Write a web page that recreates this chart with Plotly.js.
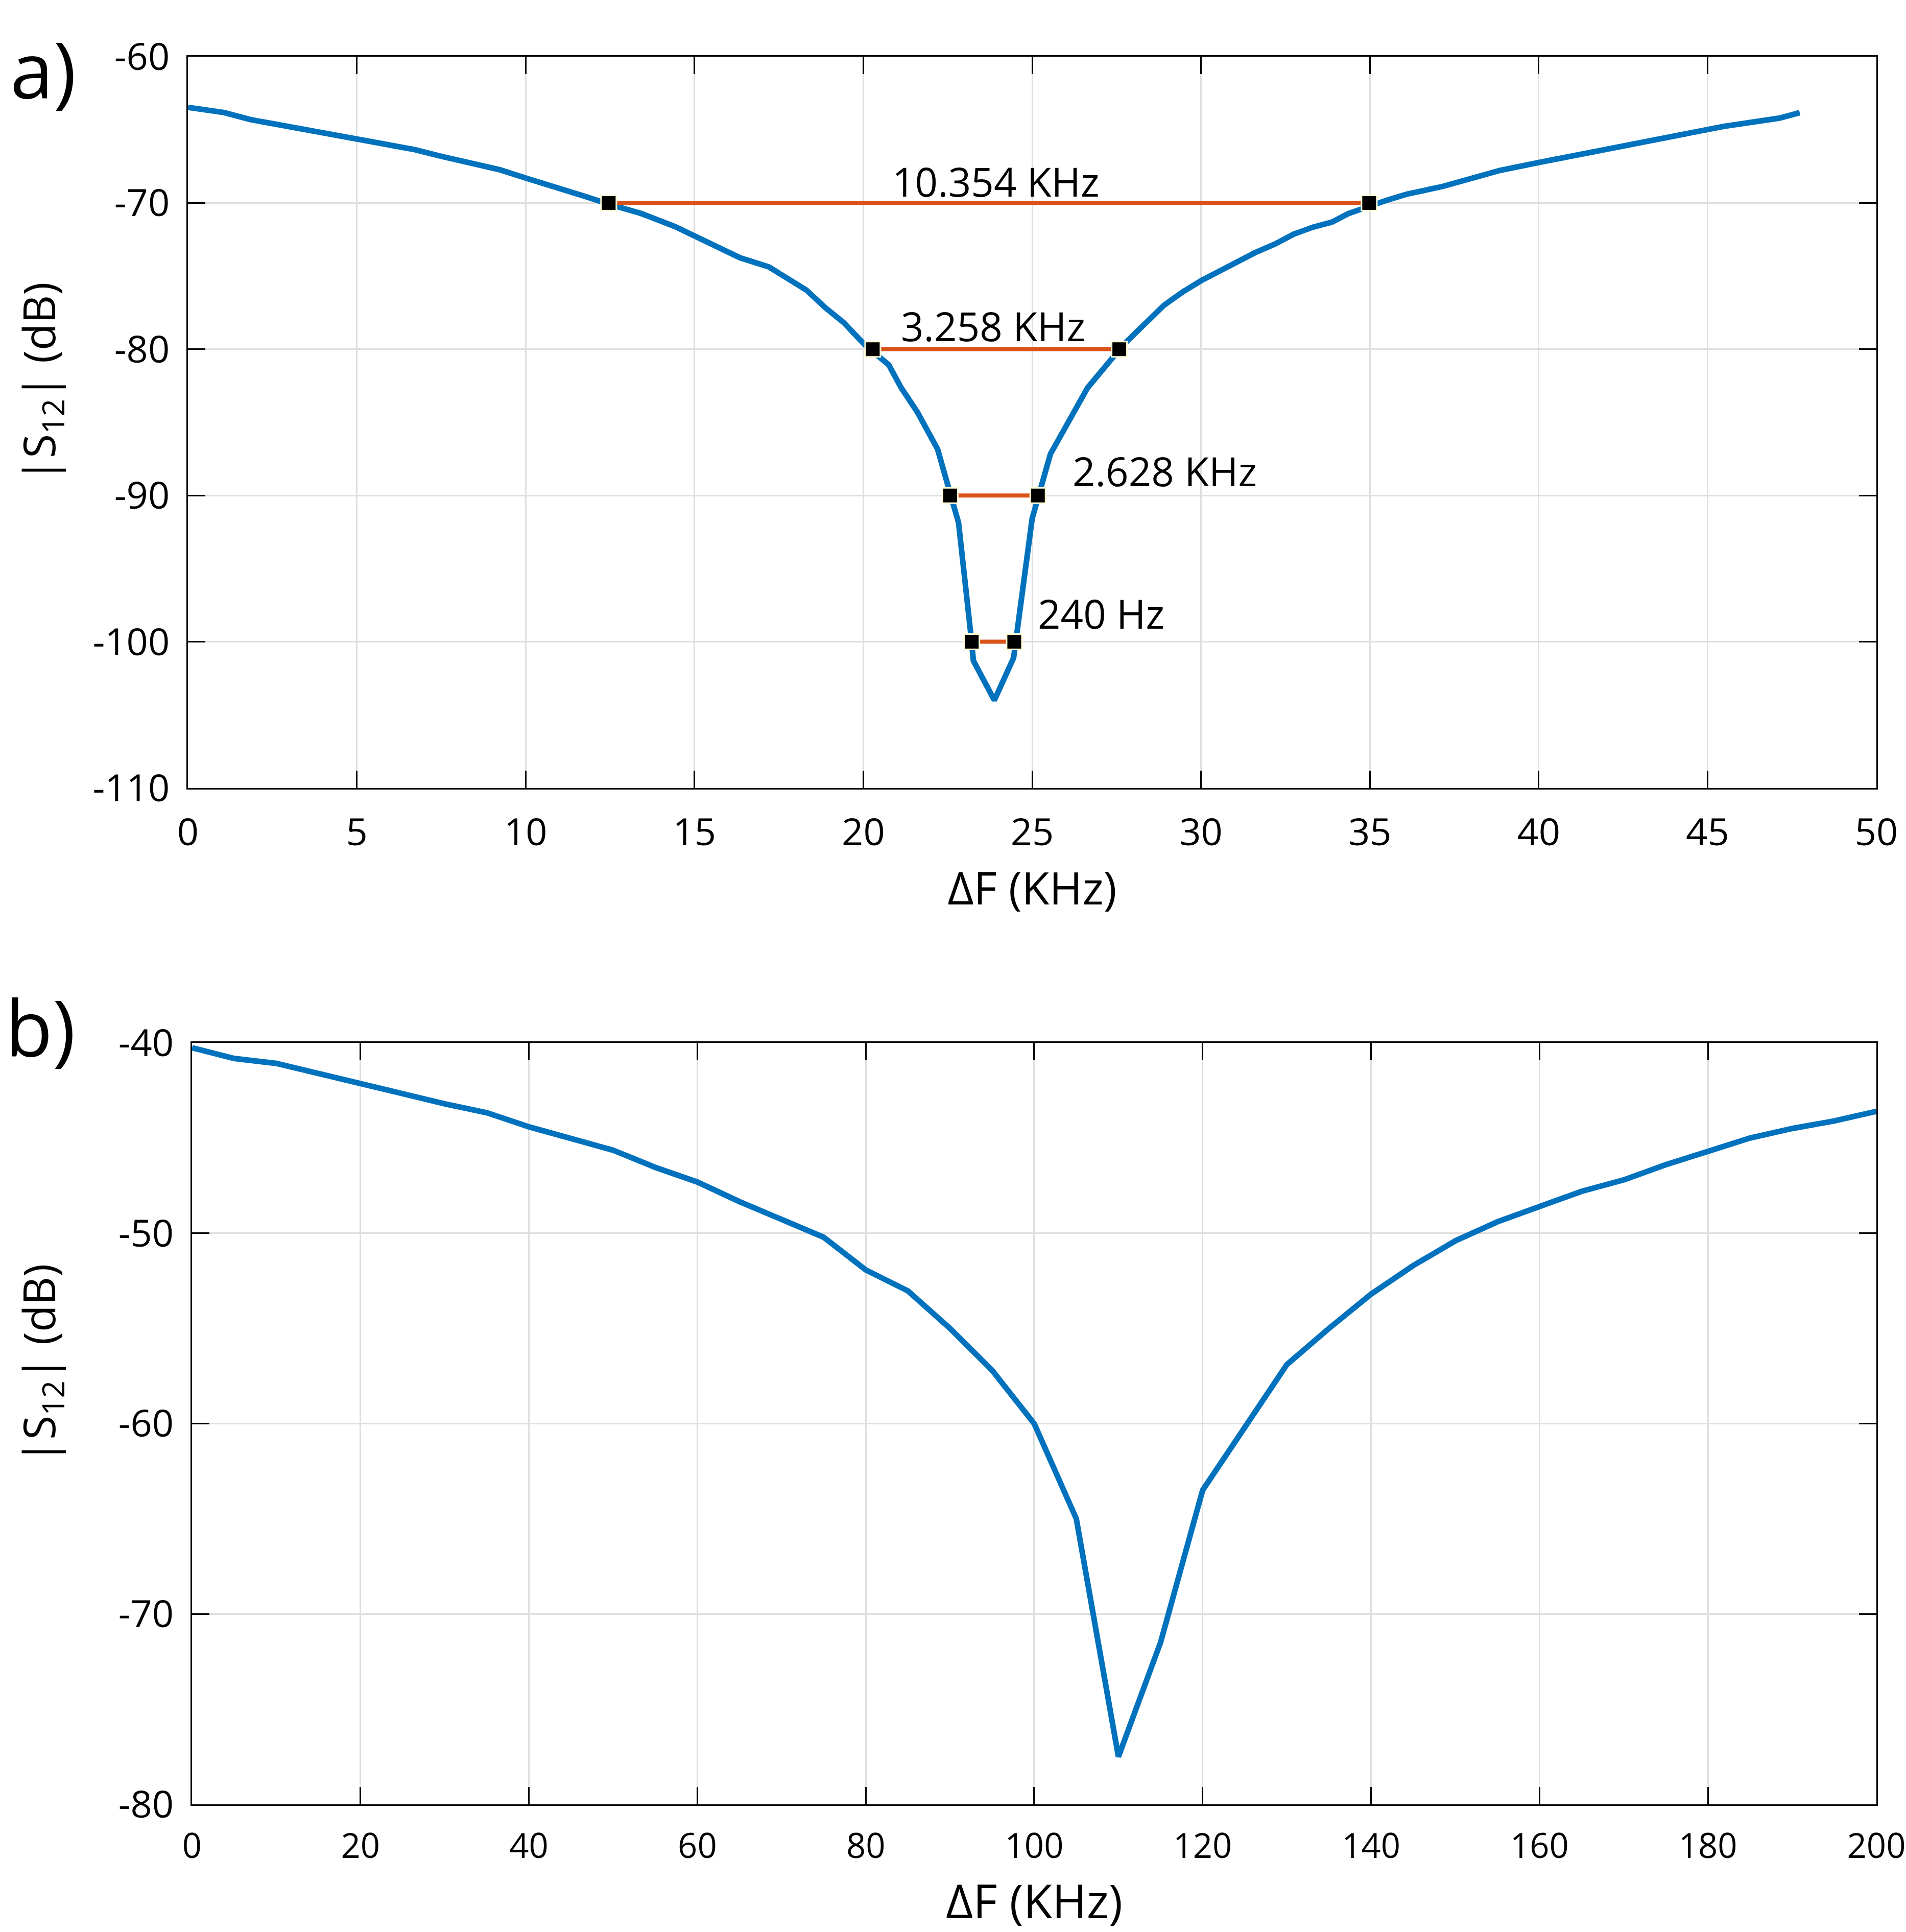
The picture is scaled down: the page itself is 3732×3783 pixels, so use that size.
<!DOCTYPE html>
<html>
<head>
<meta charset="utf-8">
<script src="https://cdn.plot.ly/plotly-3.0.1.min.js"></script>
<style>
  html, body { margin: 0; padding: 0; background: #ffffff; }
  #chart { width: 3732px; height: 3783px; }
</style>
</head>
<body>
<div id="chart"></div>
<script>
// ---- panel a: |S12| vs frequency offset, 0..50 KHz ----
const freqA = [0, 1.07, 1.85, 2.78, 4.31, 5.55, 6.71, 7.48, 8.48, 9.25, 10.02, 10.95, 11.72,
    12.49, 13.42, 14.42, 15.42, 16.35, 17.2, 17.74, 18.31, 18.87, 19.43, 20.05, 20.75, 21.12,
    21.6, 22.2, 22.5, 22.82, 23.19, 23.26, 23.88, 24.45, 25.0, 25.54, 26.64, 27.7, 28.9, 29.46,
    30.03, 30.59, 31.6, 32.2, 32.75, 33.31, 33.88, 34.36, 35.0, 35.52, 36.09, 37.16, 38.24,
    38.86, 39.99, 41.07, 41.64, 42.77, 43.79, 44.98, 45.49, 47.13, 47.73];
const s12A = [-63.46, -63.82, -64.3, -64.69, -65.25, -65.82, -66.35, -66.8, -67.3, -67.74, -68.31,
    -68.93, -69.52, -70.1, -70.72, -71.61, -72.77, -73.75, -74.37, -75.15, -75.95, -77.15, -78.2,
    -79.72, -81.06, -82.63, -84.3, -86.84, -89.4, -91.86, -99.63, -101.3, -104.0, -101.1, -91.58,
    -87.17, -82.64, -79.7, -77.0, -76.08, -75.28, -74.6, -73.4, -72.8, -72.13, -71.66, -71.31,
    -70.73, -70.2, -69.8, -69.4, -68.87, -68.17, -67.77, -67.24, -66.74, -66.48, -65.96, -65.5,
    -64.97, -64.76, -64.2, -63.83];

// bandwidth markers at each level
const bwLevel = [-70, -80, -90, -100];
const bwLeft  = [12.46, 20.28, 22.57, 23.21];
const bwRight = [34.98, 27.58, 25.17, 24.47];
const bwText  = ["10.354 KHz", "3.258 KHz", "2.628 KHz", "240 Hz"];
const bwTextX = [23.92, 23.84, 28.93, 27.04];
const bwTextY = [-68.52, -78.41, -88.31, -98.07];

// ---- panel b: 0..200 KHz ----
const freqB = [0, 5, 10, 15, 20, 25, 30, 35, 40, 45, 50, 55, 60, 65, 70, 75, 80, 85, 90, 95, 100,
    105, 110, 115, 120, 125, 130, 135, 140, 145, 150, 155, 160, 165, 170, 175, 180, 185, 190, 195, 200];
const s12B = [-40.26, -40.82, -41.08, -41.59, -42.1, -42.67, -43.2, -43.67, -44.41, -45.05, -45.64,
    -46.54, -47.31, -48.34, -49.24, -50.21, -51.93, -53.03, -55.0, -57.2, -60.0, -65.0, -77.5, -71.5,
    -63.5, -60.2, -56.9, -55.0, -53.2, -51.7, -50.4, -49.4, -48.6, -47.8, -47.2, -46.4, -45.7, -45.0,
    -44.5, -44.1, -43.6];

// tick labels (plain hyphen like the original)
const xTicksA = [0, 5, 10, 15, 20, 25, 30, 35, 40, 45, 50];
const yTicksA = [-110, -100, -90, -80, -70, -60];
const xTicksB = [0, 20, 40, 60, 80, 100, 120, 140, 160, 180, 200];
const yTicksB = [-80, -70, -60, -50, -40];

const BLUE = "#0072BD";
const ORANGE = "#D95319";
const FONT = "Open Sans, Noto Sans, sans-serif";

const traces = [{
    x: freqA, y: s12A, xaxis: "x", yaxis: "y",
    mode: "lines", line: { color: BLUE, width: 11 }, hoverinfo: "skip"
}];
bwLevel.forEach((lv, i) => {
    traces.push({
        x: [bwLeft[i], bwRight[i]], y: [lv, lv], xaxis: "x", yaxis: "y",
        mode: "lines+markers",
        line: { color: ORANGE, width: 8 },
        marker: { symbol: "square", size: 30, color: "#000000", line: { color: "#fffbd6", width: 3 } },
        cliponaxis: false
    });
});
traces.push({
    x: freqB, y: s12B, xaxis: "x2", yaxis: "y2",
    mode: "lines", line: { color: BLUE, width: 11 }, hoverinfo: "skip"
});

function axisBase(extra) {
    return Object.assign({
        showline: true, linecolor: "#000000", linewidth: 3, mirror: "ticks",
        ticks: "inside", ticklen: 34, tickwidth: 3, tickcolor: "#000000",
        showgrid: true, gridcolor: "#dfdfdf", gridwidth: 3,
        zeroline: false, automargin: false, ticklabeloverflow: "allow",
        tickfont: { family: FONT, size: 74, color: "#000000" }
    }, extra);
}

const annotations = bwText.map((t, i) => ({
    x: bwTextX[i], y: bwTextY[i], xref: "x", yref: "y", text: t, showarrow: false,
    xanchor: "center", yanchor: "middle", font: { family: FONT, size: 78, color: "#000000" }
}));
annotations.push(
    { x: 0.0048, y: 0.9645, xref: "paper", yref: "paper", text: "a)", showarrow: false,
      xanchor: "left", yanchor: "middle", font: { family: FONT, size: 152, color: "#000000" } },
    { x: 0.0021, y: 0.4685, xref: "paper", yref: "paper", text: "b)", showarrow: false,
      xanchor: "left", yanchor: "middle", font: { family: FONT, size: 152, color: "#000000" } },
    { x: 0.0215, y: 0.8023, xref: "paper", yref: "paper", text: "|S<sub>12</sub>| (dB)", showarrow: false,
      textangle: -90, xanchor: "center", yanchor: "middle", font: { family: FONT, size: 86, color: "#000000" } },
    { x: 0.0215, y: 0.2942, xref: "paper", yref: "paper", text: "|S<sub>12</sub>| (dB)", showarrow: false,
      textangle: -90, xanchor: "center", yanchor: "middle", font: { family: FONT, size: 86, color: "#000000" } }
);

const layout = {
    width: 3732, height: 3783,
    paper_bgcolor: "#ffffff", plot_bgcolor: "#ffffff",
    margin: { l: 0, r: 0, t: 0, b: 0, pad: 0 },
    showlegend: false,
    font: { family: FONT, color: "#000000" },
    xaxis: axisBase({
        domain: [0.09861, 0.98446], anchor: "y", range: [0, 50], ticklabelstandoff: 20,
        tickmode: "array", tickvals: xTicksA, ticktext: xTicksA.map(String),
        title: { text: "ΔF (KHz)", font: { family: FONT, size: 88, color: "#000000" }, standoff: 0 }
    }),
    yaxis: axisBase({
        domain: [0.59212, 0.97066], anchor: "x", range: [-110, -60], ticklabelstandoff: 18,
        tickmode: "array", tickvals: yTicksA, ticktext: yTicksA.map(v => String(v))
    }),
    xaxis2: axisBase({
        domain: [0.10075, 0.98446], anchor: "y2", range: [0, 200], ticklabelstandoff: 22,
        tickfont: { family: FONT, size: 67, color: "#000000" },
        tickmode: "array", tickvals: xTicksB, ticktext: xTicksB.map(String),
        title: { text: "ΔF (KHz)", font: { family: FONT, size: 92, color: "#000000" }, standoff: 14 }
    }),
    yaxis2: axisBase({
        domain: [0.06609, 0.46022], anchor: "x2", range: [-80, -40], ticklabelstandoff: 18,
        tickmode: "array", tickvals: yTicksB, ticktext: yTicksB.map(v => String(v))
    }),
    annotations: annotations
};

Plotly.newPlot("chart", traces, layout, { staticPlot: true });
</script>
</body>
</html>
